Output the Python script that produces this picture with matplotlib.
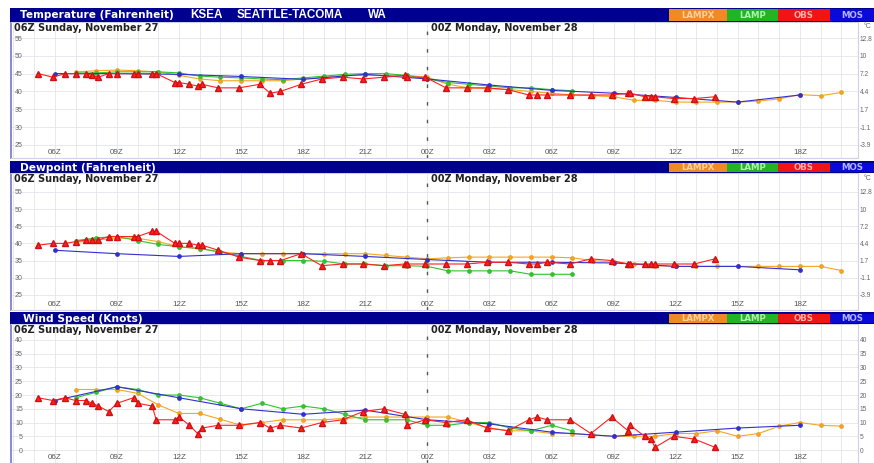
import matplotlib
matplotlib.use('Agg')
import matplotlib.pyplot as plt
from matplotlib.patches import Rectangle

plt.rcParams['font.family'] = ['Liberation Sans', 'DejaVu Sans']

# ---------------- data (hours since 00Z Sunday Nov 27) ----------------
xtick_hours = [6, 9, 12, 15, 18, 21, 24, 27, 30, 33, 36, 39, 42]
xtick_labels = ['06Z', '09Z', '12Z', '15Z', '18Z', '21Z', '00Z',
                '03Z', '06Z', '09Z', '12Z', '15Z', '18Z']

obs_hours = [5.2, 5.9, 6.5, 7.0, 7.5, 7.8, 8.1, 8.6, 9.0, 9.8, 10.0, 10.7, 10.9,
             11.8, 12.0, 12.5, 12.9, 13.1, 13.9, 14.9, 15.9, 16.4, 16.9, 17.9,
             18.9, 19.9, 20.9, 21.9, 22.9, 23.0, 23.9, 24.9, 25.9, 26.9, 27.9,
             28.9, 29.3, 29.8, 30.9, 31.9, 32.9, 33.7, 33.8, 34.5, 34.8, 35.0,
             35.9, 36.9, 37.9]
obs_temp = [45, 44, 45, 45, 45, 44.5, 44, 45, 45, 45, 45, 45, 45,
            42.5, 42.5, 42, 41.5, 42, 41, 41, 42, 39.5, 40, 42,
            43.5, 44, 43.5, 44, 44.5, 44, 44, 41, 41, 41, 40.5,
            39, 39, 39, 39, 39, 39, 39.5, 39.5, 38.5, 38.5, 38.5,
            38, 38, 38.5]
obs_dew = [39.5, 40, 40, 40.5, 41, 41, 41, 42, 42, 42, 42, 43.5, 43.5,
           40, 40, 40, 39.5, 39.5, 38, 36, 35, 35, 35, 37,
           33.5, 34, 34, 33.5, 34, 34, 34, 34, 34, 34.5, 34.5,
           34, 34, 34.5, 34, 35.5, 35, 34, 34, 34, 34, 34,
           34, 34, 35.5]
obs_wind = [19, 18, 19, 18, 18, 17, 16, 14, 17, 19, 17, 16, 11,
            11, 12, 9, 6, 8, 9, 9, 10, 8, 9, 8,
            10, 11, 14, 15, 13, 9, 11, 10, 11, 8, 7,
            11, 12, 11, 11, 6, 12, 7, 9, 5, 4, 1,
            5, 4, 1]

mos_hours = [6, 9, 12, 15, 18, 21, 24, 27, 30, 33, 36, 39, 42]
mos_temp = [45, 45, 44.8, 44.2, 43.4, 44.8, 43.5, 41.8, 40.3, 39.5, 38.3, 37, 39]
mos_dew = [38, 37, 36.2, 37, 37, 36.2, 35.3, 34.5, 34.5, 34.3, 33.3, 33.3, 32.3]
mos_wind = [18, 23, 19, 15, 13, 14.5, 11, 9.5, 6.5, 5, 6.5, 8, 9]

lamp_hours = [7, 8, 9, 10, 11, 12, 13, 14, 15, 16, 17, 18, 19, 20, 21, 22, 23,
              24, 25, 26, 27, 28, 29, 30, 31]
lamp_temp = [45.2, 45.2, 45.5, 45.5, 45.5, 45.2, 44.3, 44, 43.8, 43.5, 43.3,
             43.8, 44.3, 44.8, 45, 45, 44.5, 43.5, 42.5, 42, 41.5, 41, 41,
             40.5, 40.2]
lamp_dew = [40.8, 41.6, 42, 40.8, 39.7, 39, 38.5, 37.5, 36.2, 35, 35, 35,
            34.8, 34, 34, 33.5, 33.5, 33.3, 32, 32, 32, 32, 31, 31, 31]
lamp_wind = [19, 21, 23, 22, 20, 20, 19, 17, 15, 17, 15, 16, 15, 13, 11, 11,
             11, 9, 9, 10, 10, 8, 7, 9, 7]

lampx_hours = list(range(7, 45))
lampx_temp = [45.5, 45.8, 46, 45.8, 45.5, 44.5, 43.5, 43, 43, 43, 43, 43.5,
              44, 44.5, 44.5, 44.5, 44.5, 44, 42, 41, 40.8, 40.5, 40, 39.5,
              39, 38.8, 38.5, 37.5, 37.5, 37, 37, 37, 37, 37.3, 37.9, 39.1,
              38.8, 39.7]
lampx_dew = [40.3, 41, 41.5, 41.5, 40.5, 39, 38.5, 37.5, 37, 37, 37, 37,
             37, 37, 37, 36.5, 36, 35.5, 35.8, 36, 36, 36, 36, 36,
             35.8, 35, 34.5, 34, 33.5, 33.3, 33.3, 33.3, 33.3, 33.3, 33.3,
             33.3, 33.3, 32.1]
lampx_wind = [22, 22, 22, 20.6, 16.4, 13.3, 13.3, 11.2, 9, 10, 11, 11, 11,
              11.5, 12, 12, 12, 12, 12, 10, 8, 7, 7, 6, 6, 5.5, 5, 5, 5,
              6, 6, 7, 5, 6, 8.7, 10, 9, 8.7]

temp_ticks = [25, 30, 35, 40, 45, 50, 55]
temp_c_labels = ['-3.9', '-1.1', '1.7', '4.4', '7.2', '10', '12.8']
wind_ticks = [0, 5, 10, 15, 20, 25, 30, 35, 40]
wind_r_labels = ['0', '5', '10', '15', '20', '25', '30', '35', '40']

legend_names = ['LAMPX', 'LAMP', 'OBS', 'MOS']
legend_colors = ['#F08A24', '#22B422', '#F01414', '#0A0AD8']
legend_text_colors = ['#FFD2A0', '#B4F0B4', '#FFB0B0', '#B4B4FF']

# ---------------- layout helpers ----------------
W, H = 874, 463
fig = plt.figure(figsize=(W / 100, H / 100), dpi=100)
fig.patch.set_facecolor('white')

def fx(x):
    return x / W

def fy(y):
    return 1 - y / H

def rect(x0, y0, x1, y1, color, z=1):
    r = Rectangle((fx(x0), fy(y1)), fx(x1) - fx(x0), fy(y0) - fy(y1),
                  transform=fig.transFigure, facecolor=color,
                  edgecolor='none', zorder=z)
    fig.add_artist(r)

X_LEFT, X_RIGHT = 11, 858
XLIM = (3.88, 44.81)
BOLD = ['DejaVu Sans', 'Liberation Sans']
CAPS = ['Liberation Sans', 'DejaVu Sans']

panels = [
    dict(title=[('Temperature (Fahrenheit)', 20, BOLD, 7.6), ('KSEA', 190, CAPS, 8.4),
                ('SEATTLE-TACOMA', 237, CAPS, 8.4), ('WA', 368, CAPS, 8.4)],
         hdr=(8, 22), ax=(22, 158), ylim=(21.3, 59.5), ticks=temp_ticks,
         rlabels=temp_c_labels, obs=obs_temp, mos=mos_temp, lamp=lamp_temp,
         lampx=lampx_temp, degc=True),
    dict(title=[('Dewpoint (Fahrenheit)', 20, BOLD, 7.7)],
         hdr=(161, 173), ax=(173, 310), ylim=(20.6, 60.5), ticks=temp_ticks,
         rlabels=temp_c_labels, obs=obs_dew, mos=mos_dew, lamp=lamp_dew,
         lampx=lampx_dew, degc=True),
    dict(title=[('Wind Speed (Knots)', 23, BOLD, 7.7)],
         hdr=(312, 324), ax=(324, 463), ylim=(-4.7, 45.8), ticks=wind_ticks,
         rlabels=wind_r_labels, obs=obs_wind, mos=mos_wind, lamp=lamp_wind,
         lampx=lampx_wind, degc=False),
]

lw = 0.8
for p in panels:
    y0, y1 = p['ax']
    ax = fig.add_axes([fx(X_LEFT), fy(y1), fx(X_RIGHT) - fx(X_LEFT), fy(y0) - fy(y1)])
    ax.set_xlim(*XLIM)
    ax.set_ylim(*p['ylim'])
    # grid
    for h in range(4, 45):
        ax.axvline(h, color='#e4e4ee', lw=0.6, zorder=0)
    for t in p['ticks']:
        ax.axhline(t, color='#e4e4ee', lw=0.6, zorder=0)
    ax.axvline(24, color='#555555', lw=1.0, dashes=(2.5, 10.2), zorder=1)
    # series
    ax.plot(lampx_hours, p['lampx'], color='#F5A623', lw=lw, marker='o',
            ms=2.4, mec='#F0A020', zorder=2)
    ax.plot(lamp_hours, p['lamp'], color='#33C033', lw=lw, marker='o',
            ms=2.4, zorder=3)
    ax.plot(mos_hours, p['mos'], color='#3030D0', lw=lw, marker='o',
            ms=2.4, zorder=4)
    ax.plot(obs_hours, p['obs'], color='#FF2020', lw=lw, marker='^',
            ms=4.3, mec='#D01010', zorder=5)
    # ticks
    ax.set_xticks(xtick_hours)
    ax.set_xticklabels(xtick_labels)
    ax.set_yticks(p['ticks'])
    ax.tick_params(axis='x', length=0, pad=-6.8, labelsize=5.8, labelcolor='#555555')
    ax.tick_params(axis='y', length=0, pad=-8.5, labelsize=5, labelcolor='#666666')
    for sp in ax.spines.values():
        sp.set_color('#d0d0e8')
        sp.set_linewidth(0.8)
    ax.spines['left'].set_color('#8888d8')
    ax.spines['left'].set_linewidth(1.4)
    ax2 = ax.twinx()
    ax2.set_ylim(*p['ylim'])
    ax2.set_yticks(p['ticks'])
    ax2.set_yticklabels(p['rlabels'])
    ax2.tick_params(axis='y', length=0, pad=1.2, labelsize=4.8, labelcolor='#666666')
    for sp in ax2.spines.values():
        sp.set_visible(False)

    # header bar
    h0, h1 = p['hdr']
    rect(10, h0, 874, h1, '#000090', z=5)
    for txt, tx, fam, fs in p['title']:
        fig.text(fx(tx), fy((h0 + h1) / 2 + 0.5), txt, color='white',
                 fontsize=fs, fontweight='bold', family=fam,
                 va='center', ha='left', zorder=6)
    lx = [669, 727, 778, 830, 874]
    for i, name in enumerate(legend_names):
        rect(lx[i], h0 + 1.5, lx[i + 1], h1 - 1, legend_colors[i], z=6)
        fig.text(fx((lx[i] + lx[i + 1]) / 2), fy((h0 + h1) / 2 + 0.5), name,
                 color=legend_text_colors[i], fontsize=6.2, fontweight='bold',
                 family=BOLD, ha='center', va='center', zorder=7)
    # date labels
    fig.text(fx(14), fy(y0 + 6), '06Z Sunday, November 27', fontsize=7,
             fontweight='bold', family=BOLD, color='#222222',
             va='center', ha='left', zorder=6)
    fig.text(fx(431), fy(y0 + 6), '00Z Monday, November 28', fontsize=7,
             fontweight='bold', family=BOLD, color='#222222',
             va='center', ha='left', zorder=6)
    if p['degc']:
        fig.text(fx(864), fy(y0 + 5), '\u00b0C', fontsize=5, color='#666666',
                 va='center', ha='left')

fig.savefig('out.png', dpi=100)
